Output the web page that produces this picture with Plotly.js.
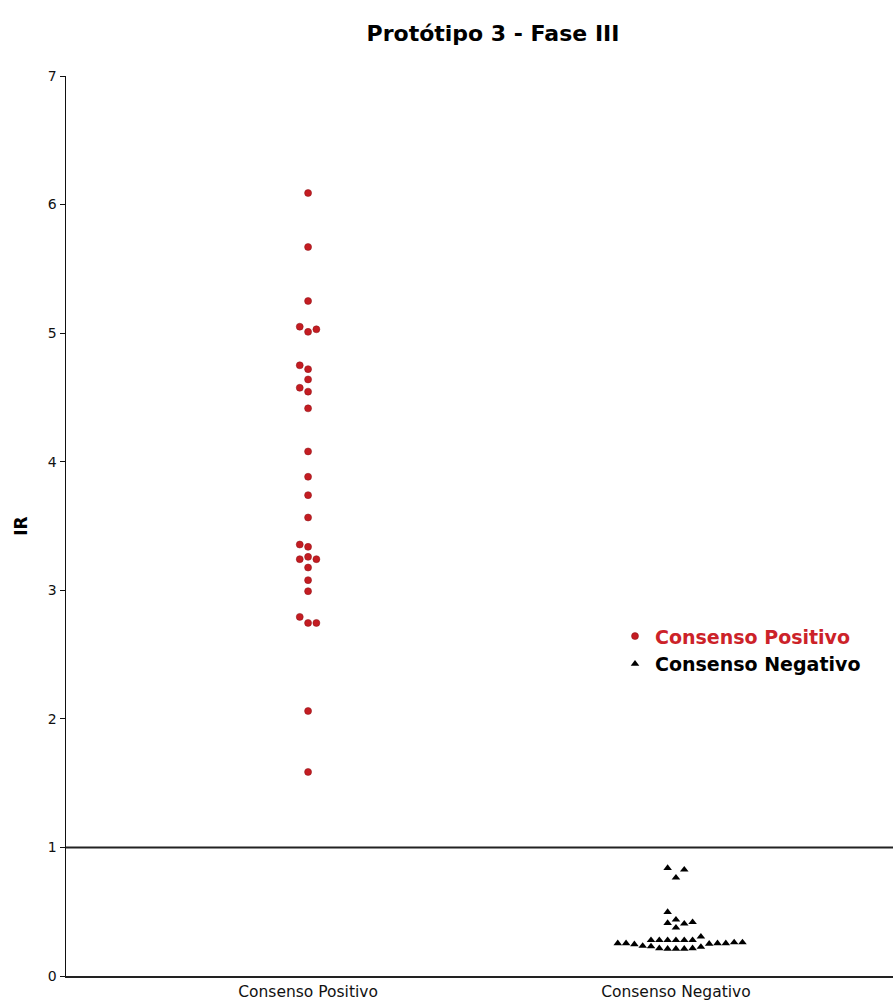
<!DOCTYPE html>
<html>
<head>
<meta charset="utf-8">
<script src="https://cdn.plot.ly/plotly-3.0.1.min.js"></script>
<style>html,body{margin:0;padding:0;background:#fff;}#chart{width:893px;height:1003px;}</style>
</head>
<body>
<div id="chart"></div>
<script>
var chartTitle = 'Protótipo 3 - Fase III';
var yTitle = 'IR';
var categories = ['Consenso Positivo', 'Consenso Negativo'];
var yTickVals = [0, 1, 2, 3, 4, 5, 6, 7];
var cutoff = 1;

// Consenso Positivo: IR values and swarm slot (side-by-side position)
var posValues = [6.09, 5.67, 5.25, 5.05, 5.01, 5.03, 4.75, 4.72, 4.64, 4.575, 4.545, 4.415, 4.08,
                 3.883, 3.74, 3.566, 3.356, 3.338, 3.242, 3.26, 3.242, 3.177, 3.079, 2.993,
                 2.793, 2.746, 2.746, 2.061, 1.587];
var posSlots  = [0, 0, 0, -1, 0, 1, -1, 0, 0, -1, 0, 0, 0,
                 0, 0, 0, -1, 0, -1, 0, 1, 0, 0, 0,
                 -1, 0, 1, 0, 0];

// Consenso Negativo
var negValues = [0.840, 0.827, 0.765,
                 0.497, 0.412, 0.438, 0.407, 0.419, 0.376,
                 0.279, 0.279, 0.279, 0.279, 0.279, 0.279, 0.306,
                 0.254, 0.254, 0.246, 0.234,
                 0.230, 0.215, 0.211, 0.211, 0.211, 0.215, 0.226,
                 0.250, 0.254, 0.254, 0.261, 0.261];
var negSlots  = [-1, 1, 0,
                 -1, -1, 0, 1, 2, 0,
                 -3, -2, -1, 0, 1, 2, 3,
                 -7, -6, -5, -4,
                 -3, -2, -1, 0, 1, 2, 3,
                 4, 5, 6, 7, 8];

var SLOT = 0.0226;
function xs(center, slots) { return slots.map(function (s) { return center + s * SLOT; }); }

var posColor = '#c41c22';
var data = [
  {
    type: 'scatter', mode: 'markers',
    x: xs(1, posSlots), y: posValues,
    name: '<span style="color:#cc2229">' + categories[0] + '</span>',
    marker: {symbol: 'circle', size: 7, color: posColor, line: {width: 0.5, color: '#8a1015'}},
    hoverinfo: 'y'
  },
  {
    type: 'scatter', mode: 'markers',
    x: xs(2, negSlots), y: negValues,
    name: categories[1],
    marker: {symbol: 'triangle-up', size: 7.5, color: '#000000'},
    hoverinfo: 'y'
  }
];

var layout = {
  width: 893, height: 1003,
  paper_bgcolor: '#ffffff', plot_bgcolor: '#ffffff',
  margin: {l: 66, r: 0, t: 76, b: 27.4, pad: 0},
  title: {
    text: '<b>' + chartTitle + '</b>',
    font: {family: 'DejaVu Sans, sans-serif', size: 22, color: '#000'},
    x: 493 / 893, xref: 'container', xanchor: 'center',
    y: 1 - 33 / 1003, yref: 'container', yanchor: 'middle'
  },
  xaxis: {
    range: [0.342, 2.59],
    tickvals: [1, 2], ticktext: categories,
    showline: true, linecolor: '#222', linewidth: 2,
    showgrid: false, zeroline: false, ticks: '',
    tickfont: {family: 'DejaVu Sans, sans-serif', size: 15.5, color: '#111'},
    fixedrange: true
  },
  yaxis: {
    range: [0, 7],
    tickvals: yTickVals,
    showline: true, linecolor: '#111', linewidth: 1.5,
    showgrid: false, zeroline: false,
    ticks: 'outside', ticklen: 5, tickwidth: 1, tickcolor: '#111',
    tickfont: {family: 'DejaVu Sans, sans-serif', size: 14, color: '#111'},
    title: {text: '<b>' + yTitle + '</b>', font: {family: 'DejaVu Sans, sans-serif', size: 17, color: '#000'}, standoff: 16},
    fixedrange: true
  },
  shapes: [
    {type: 'line', xref: 'paper', x0: 0, x1: 1, yref: 'y', y0: cutoff, y1: cutoff,
     line: {color: '#222', width: 2}}
  ],
  showlegend: true,
  legend: {
    x: (615 - 66) / 827, xanchor: 'left',
    y: (975.6 - 617) / 899.6, yanchor: 'top',
    font: {family: 'DejaVu Sans, sans-serif', size: 19, color: '#000', weight: 'bold'},
    bgcolor: 'rgba(0,0,0,0)', borderwidth: 0, tracegroupgap: 0
  }
};

Plotly.newPlot('chart', data, layout, {displayModeBar: false, staticPlot: true});
</script>
</body>
</html>
